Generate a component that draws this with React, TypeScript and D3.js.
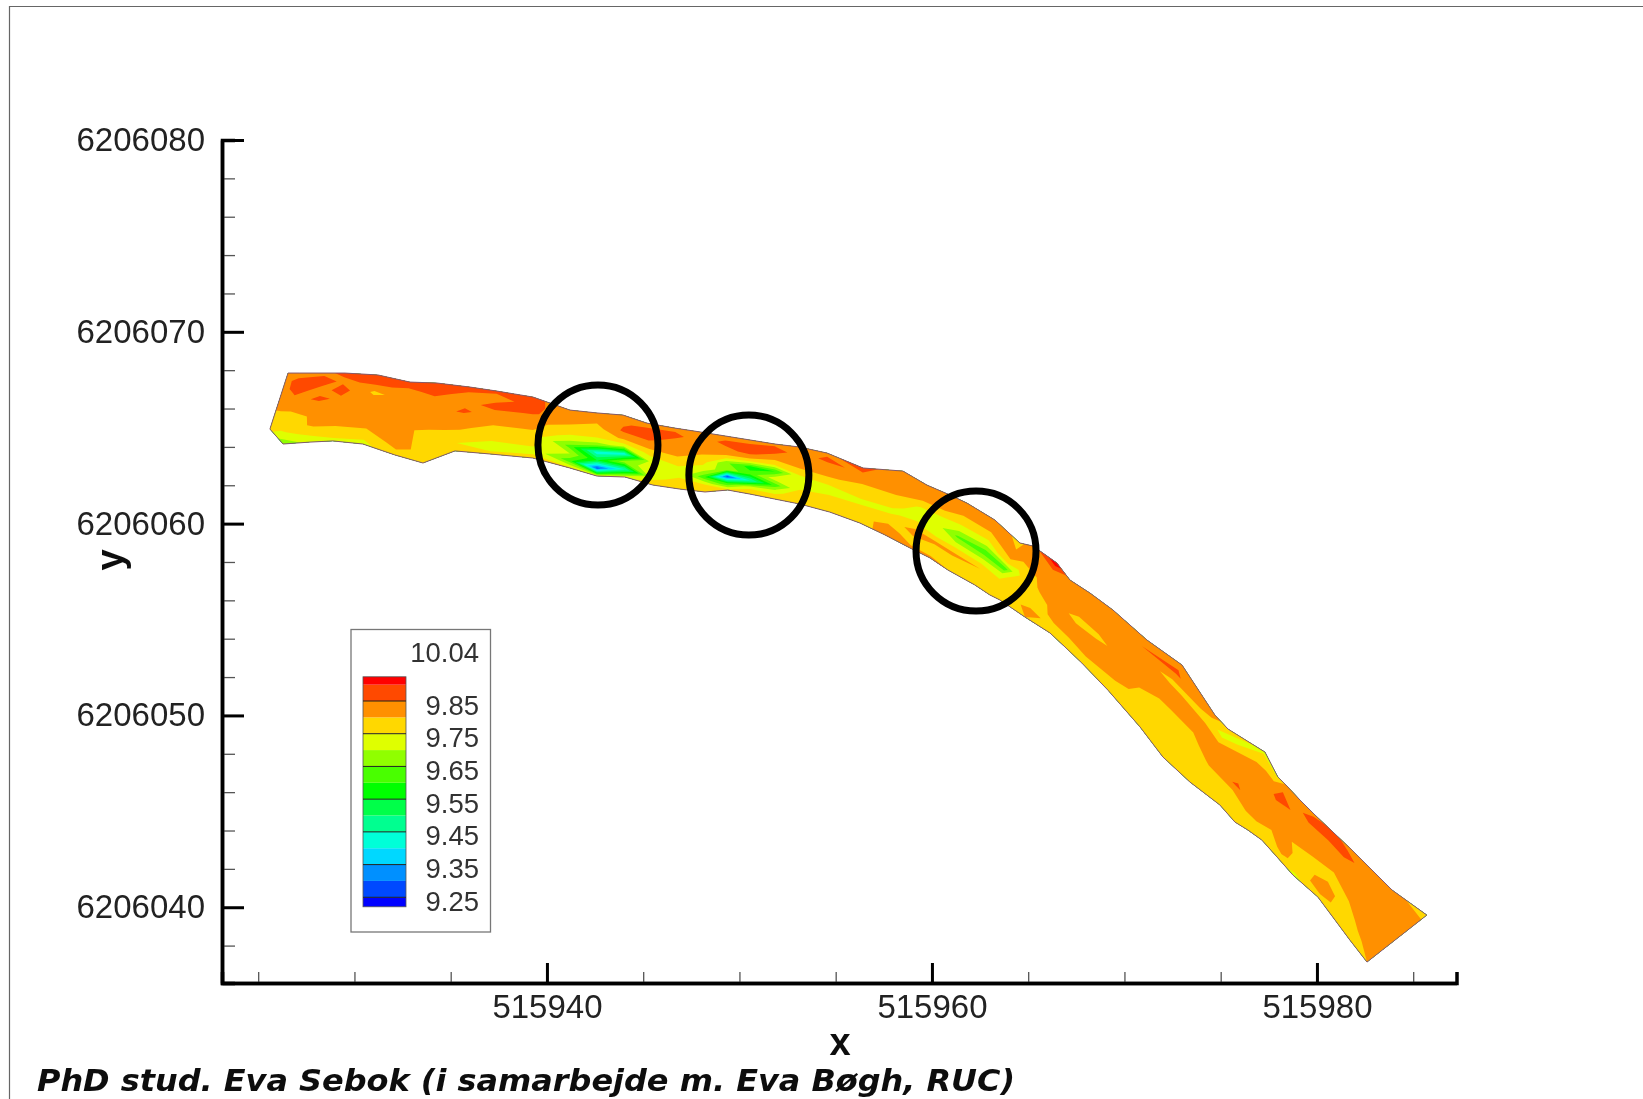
import React, { useEffect, useRef } from 'react';
import * as d3 from 'd3';

// banks of the river reach, one point per cross section
const upperX = [515926.55, 515927.17, 515928.47, 515929.51, 515931.22, 515932.88, 515934.29, 515936.0, 515937.4, 515939.27, 515941.19, 515942.6, 515943.95, 515945.19, 515946.65, 515947.95, 515949.25, 515950.55, 515951.84, 515953.14, 515954.55, 515956.42, 515958.49, 515959.74, 515960.94, 515961.82, 515963.27, 515964.57, 515965.25, 515966.49, 515967.17, 515968.21, 515969.4, 515971.17, 515972.99, 515974.7, 515975.38, 515977.3, 515977.97, 515978.49, 515979.12, 515979.9, 515980.94, 515981.71, 515982.86, 515983.9, 515985.71];
const upperY = [6206067.85, 6206067.85, 6206067.85, 6206067.85, 6206067.75, 6206067.38, 6206067.33, 6206067.12, 6206066.91, 6206066.6, 6206065.92, 6206065.77, 6206065.66, 6206065.24, 6206064.98, 6206064.78, 6206064.57, 6206064.36, 6206064.15, 6206063.99, 6206063.68, 6206062.9, 6206062.74, 6206062.01, 6206061.49, 6206061.07, 6206060.19, 6206058.99, 6206058.83, 6206057.95, 6206057.06, 6206056.38, 6206055.5, 6206053.93, 6206052.63, 6206050.02, 6206049.29, 6206048.09, 6206046.79, 6206046.27, 6206045.59, 6206044.81, 6206043.82, 6206043.09, 6206041.94, 6206040.9, 6206039.59];
const lowerX = [515925.61, 515926.29, 515927.69, 515928.88, 515930.44, 515932.1, 515933.56, 515935.22, 515937.04, 515939.27, 515941.19, 515942.6, 515944.05, 515945.51, 515946.91, 515948.21, 515949.4, 515950.55, 515951.84, 515953.14, 515954.7, 515956.26, 515957.56, 515958.86, 515959.9, 515960.83, 515962.23, 515963.01, 515963.53, 515964.83, 515966.13, 515966.91, 515967.79, 515969.14, 515970.81, 515972.0, 515973.4, 515974.96, 515975.74, 515976.42, 515977.14, 515977.97, 515978.75, 515980.05, 515980.94, 515981.71, 515982.6];
const lowerY = [6206064.93, 6206064.15, 6206064.25, 6206064.31, 6206064.15, 6206063.58, 6206063.16, 6206063.79, 6206063.63, 6206063.42, 6206062.9, 6206062.48, 6206062.43, 6206062.01, 6206061.8, 6206061.65, 6206061.75, 6206061.54, 6206061.28, 6206061.02, 6206060.6, 6206060.03, 6206059.41, 6206058.73, 6206058.21, 6206057.58, 6206056.8, 6206056.28, 6206056.02, 6206055.13, 6206054.3, 6206053.57, 6206052.73, 6206051.32, 6206049.4, 6206047.83, 6206046.53, 6206045.33, 6206044.44, 6206044.02, 6206043.5, 6206042.57, 6206041.68, 6206040.53, 6206039.33, 6206038.29, 6206037.14];

// water level per cross section, from the upper bank to the lower bank
const sectionLevels = [
  [9.83, 9.83, 9.83, 9.83, 9.83, 9.81, 9.78, 9.77, 9.77],
  [9.82, 9.87, 9.87, 9.83, 9.81, 9.78, 9.77, 9.74, 9.66],
  [9.84, 9.87, 9.83, 9.86, 9.82, 9.81, 9.81, 9.76, 9.72],
  [9.86, 9.84, 9.87, 9.84, 9.82, 9.8, 9.81, 9.77, 9.74],
  [9.87, 9.86, 9.79, 9.82, 9.83, 9.82, 9.81, 9.76, 9.74],
  [9.87, 9.84, 9.82, 9.82, 9.82, 9.81, 9.82, 9.82, 9.77],
  [9.87, 9.86, 9.83, 9.82, 9.82, 9.79, 9.78, 9.78, 9.77],
  [9.87, 9.84, 9.83, 9.86, 9.82, 9.81, 9.78, 9.75, 9.76],
  [9.86, 9.83, 9.87, 9.82, 9.81, 9.78, 9.76, 9.73, 9.76],
  [9.86, 9.87, 9.86, 9.82, 9.81, 9.78, 9.76, 9.74, 9.76],
  [9.83, 9.81, 9.8, 9.77, 9.72, 9.63, 9.7, 9.62, 9.76],
  [9.82, 9.81, 9.78, 9.76, 9.68, 9.42, 9.55, 9.28, 9.74],
  [9.82, 9.84, 9.86, 9.81, 9.72, 9.42, 9.68, 9.45, 9.74],
  [9.82, 9.87, 9.86, 9.82, 9.76, 9.72, 9.72, 9.74, 9.77],
  [9.84, 9.86, 9.83, 9.85, 9.78, 9.75, 9.74, 9.76, 9.78],
  [9.83, 9.83, 9.82, 9.8, 9.77, 9.72, 9.62, 9.75, 9.78],
  [9.83, 9.86, 9.84, 9.79, 9.66, 9.68, 9.28, 9.6, 9.77],
  [9.82, 9.87, 9.86, 9.78, 9.58, 9.62, 9.45, 9.74, 9.78],
  [9.84, 9.87, 9.82, 9.76, 9.6, 9.73, 9.62, 9.74, 9.78],
  [9.82, 9.83, 9.81, 9.8, 9.75, 9.71, 9.75, 9.77, 9.78],
  [9.84, 9.86, 9.82, 9.81, 9.76, 9.73, 9.76, 9.8, 9.77],
  [9.87, 9.84, 9.81, 9.78, 9.76, 9.74, 9.77, 9.78, 9.78],
  [9.82, 9.82, 9.82, 9.8, 9.77, 9.74, 9.77, 9.82, 9.82],
  [9.82, 9.82, 9.8, 9.74, 9.72, 9.77, 9.82, 9.78, 9.81],
  [9.82, 9.82, 9.8, 9.74, 9.71, 9.72, 9.81, 9.77, 9.81],
  [9.82, 9.82, 9.78, 9.73, 9.64, 9.73, 9.81, 9.77, 9.8],
  [9.82, 9.82, 9.78, 9.72, 9.62, 9.72, 9.8, 9.77, 9.77],
  [9.79, 9.8, 9.82, 9.78, 9.62, 9.74, 9.76, 9.8, 9.78],
  [9.82, 9.82, 9.82, 9.76, 9.74, 9.76, 9.78, 9.78, 9.78],
  [9.94, 9.85, 9.84, 9.82, 9.81, 9.78, 9.78, 9.81, 9.8],
  [9.82, 9.82, 9.82, 9.82, 9.82, 9.82, 9.81, 9.79, 9.78],
  [9.82, 9.82, 9.82, 9.82, 9.78, 9.82, 9.82, 9.79, 9.78],
  [9.83, 9.83, 9.82, 9.82, 9.79, 9.82, 9.82, 9.8, 9.78],
  [9.84, 9.85, 9.82, 9.82, 9.82, 9.82, 9.81, 9.79, 9.78],
  [9.83, 9.86, 9.79, 9.82, 9.81, 9.78, 9.78, 9.78, 9.78],
  [9.82, 9.78, 9.82, 9.81, 9.78, 9.78, 9.78, 9.78, 9.78],
  [9.78, 9.73, 9.8, 9.82, 9.82, 9.79, 9.78, 9.78, 9.78],
  [9.74, 9.78, 9.82, 9.82, 9.82, 9.86, 9.78, 9.78, 9.78],
  [9.74, 9.82, 9.82, 9.82, 9.82, 9.82, 9.8, 9.78, 9.78],
  [9.82, 9.85, 9.87, 9.82, 9.82, 9.82, 9.81, 9.78, 9.78],
  [9.82, 9.83, 9.85, 9.82, 9.82, 9.82, 9.8, 9.78, 9.78],
  [9.84, 9.87, 9.82, 9.82, 9.82, 9.8, 9.81, 9.81, 9.77],
  [9.86, 9.86, 9.82, 9.82, 9.81, 9.78, 9.78, 9.78, 9.73],
  [9.83, 9.87, 9.83, 9.82, 9.8, 9.78, 9.82, 9.82, 9.78],
  [9.82, 9.82, 9.82, 9.85, 9.82, 9.8, 9.78, 9.78, 9.78],
  [9.82, 9.82, 9.82, 9.82, 9.82, 9.82, 9.81, 9.79, 9.78],
  [9.77, 9.81, 9.82, 9.85, 9.82, 9.82, 9.82, 9.82, 9.8],
];

const levels = [9.25, 9.3, 9.35, 9.4, 9.45, 9.5, 9.55, 9.6, 9.65, 9.7, 9.75, 9.8, 9.85, 9.9];
const levelColors = ['#0000ff', '#0048ff', '#0090ff', '#00d8ff', '#00ffd8', '#00ff90', '#00ff48', '#00ff00', '#48ff00', '#90ff00', '#dfff00', '#ffd800', '#ff9000', '#ff4800', '#ff0000'];
const legendLabels = [9.85, 9.75, 9.65, 9.55, 9.45, 9.35, 9.25];
const legendMax = '10.04';

const xMajor = [515940, 515960, 515980];
const xMinor = [515925, 515930, 515935, 515945, 515950, 515955, 515965, 515970, 515975, 515985];
const yMajor = [6206040, 6206050, 6206060, 6206070, 6206080];
const yMinor = [6206038, 6206042, 6206044, 6206046, 6206048, 6206052, 6206054, 6206056, 6206058, 6206062, 6206064, 6206066, 6206068, 6206072, 6206074, 6206076, 6206078];

// circled low spots
const circleX = [515942.65, 515950.49, 515962.29];
const circleY = [6206064.1, 6206062.53, 6206058.57];

const footer = 'PhD stud. Eva Sebok (i samarbejde m. Eva Bøgh, RUC)';

const xScale = d3.scaleLinear().domain([515923.12, 515987.25]).range([222, 1456.5]);
const yScale = d3.scaleLinear().domain([6206036.05, 6206080]).range([983, 140]);
const legendScale = d3.scaleLinear().domain([9.25, 9.85]).range([897.3, 701]);
const legendEnds = [9.221, 9.924];

const nSections = sectionLevels.length;
const nRows = sectionLevels[0].length;
const lerp = (a: number, b: number, t: number) => a + (b - a) * t;

// grid position from d3.contours -> position on the river
function toRiver([gx, gy]: number[]): [number, number] {
  const s = Math.max(0, Math.min(nSections - 1, gx - 0.5));
  const t = Math.max(0, Math.min(1, (gy - 0.5) / (nRows - 1)));
  const i = Math.min(nSections - 2, Math.floor(s));
  const f = s - i;
  const ux = lerp(upperX[i], upperX[i + 1], f);
  const uy = lerp(upperY[i], upperY[i + 1], f);
  const lx = lerp(lowerX[i], lowerX[i + 1], f);
  const ly = lerp(lowerY[i], lowerY[i + 1], f);
  return [xScale(lerp(ux, lx, t)), yScale(lerp(uy, ly, t))];
}

function App() {
  const axesRef = useRef<SVGGElement>(null);

  useEffect(() => {
    const g = d3.select(axesRef.current);
    g.selectAll('*').remove();

    const style = (sel: any, width: number, color: string) => {
      sel.selectAll('line').attr('stroke', color).attr('stroke-width', width);
      sel.selectAll('path').attr('stroke', '#000').attr('stroke-width', 3.5);
      sel.selectAll('text')
        .attr('font-family', '"Liberation Sans", Arial, sans-serif')
        .attr('font-size', 33)
        .attr('fill', '#222');
    };

    const yAt = g.append('g').attr('transform', `translate(${xScale.range()[0]},0)`);
    yAt.append('g').call(d3.axisLeft(yScale).tickValues(yMinor).tickSize(-13).tickFormat(() => ''))
      .call(style, 1.3, '#555');
    yAt.append('g').call(d3.axisLeft(yScale).tickValues(yMajor).tickSize(-22).tickSizeOuter(0).tickPadding(17).tickFormat(d3.format('d')))
      .call(style, 3, '#000');

    const xAt = g.append('g').attr('transform', `translate(0,${yScale.range()[0]})`);
    xAt.append('g').call(d3.axisBottom(xScale).tickValues(xMinor).tickSize(-11).tickFormat(() => ''))
      .call(style, 1.3, '#555');
    xAt.append('g').call(d3.axisBottom(xScale).tickValues(xMajor).tickSize(-20).tickSizeOuter(0).tickPadding(12).tickFormat(d3.format('d')))
      .call(style, 3, '#000');
  }, []);

  const flat = d3.range(nRows).flatMap(r => sectionLevels.map(col => col[r]));
  const bands = d3.contours().size([nSections, nRows]).thresholds(levels)(flat);
  const ring = d3.line();
  const bandPath = (band: any) =>
    band.coordinates.flatMap((poly: number[][][]) => poly.map(r => ring(r.map(toRiver)) + 'Z')).join('');

  const outline = ring([
    ...upperX.map((x, i) => [xScale(x), yScale(upperY[i])] as [number, number]),
    ...lowerX.map((x, i) => [xScale(x), yScale(lowerY[i])] as [number, number]).reverse(),
  ]) + 'Z';

  const legendEdges = [legendEnds[0], ...levels, legendEnds[1]];

  return (
    <svg width={1643} height={1099} style={{ position: 'absolute', left: 0, top: 0, background: '#fff' }}>
      <defs>
        <filter id="soft" x="-5%" y="-5%" width="110%" height="110%">
          <feGaussianBlur stdDeviation="0.7" />
        </filter>
      </defs>
      <path d="M9.5,1099V6.5H1643" fill="none" stroke="#666" strokeWidth={1.2} />
      <g filter="url(#soft)">
        <g>
          {bands.map((band, i) => (
            <path key={i} d={bandPath(band)} fill={levelColors[i + 1]} fillRule="evenodd" />
          ))}
          <path d={outline} fill="none" stroke="#85586e" strokeWidth={1} />
        </g>

        <g ref={axesRef} />

        <text x={840} y={1055} textAnchor="middle" fontFamily='"Liberation Sans", Arial, sans-serif' fontWeight="bold" fontSize={38} fill="#111">x</text>
        <text transform="translate(123,560) rotate(-90)" textAnchor="middle" fontFamily='"Liberation Sans", Arial, sans-serif' fontWeight="bold" fontSize={38} fill="#111">y</text>

        {circleX.map((cx, i) => (
          <circle key={i} cx={xScale(cx)} cy={yScale(circleY[i])} r={60} fill="none" stroke="#000" strokeWidth={7} />
        ))}

        <rect x={351} y={629.5} width={139.5} height={302.5} fill="#fff" stroke="#777" strokeWidth={1.3} />
        {levelColors.map((c, i) => (
          <rect key={c} x={363} width={43} y={legendScale(legendEdges[i + 1])} height={legendScale(legendEdges[i]) - legendScale(legendEdges[i + 1])} fill={c} />
        ))}
        <rect x={363} width={43} y={legendScale(legendEnds[1])} height={legendScale(legendEnds[0]) - legendScale(legendEnds[1])} fill="none" stroke="#555" strokeWidth={0.8} />
        {legendLabels.map(v => (
          <g key={v}>
            <line x1={363} x2={406} y1={legendScale(v)} y2={legendScale(v)} stroke="#222" strokeWidth={1} />
            <text x={479} y={legendScale(v) + 13.5} textAnchor="end" fontFamily='"Liberation Sans", Arial, sans-serif' fontSize={27.5} fill="#333">{v.toFixed(2)}</text>
          </g>
        ))}
        <text x={479} y={662} textAnchor="end" fontFamily='"Liberation Sans", Arial, sans-serif' fontSize={27.5} fill="#333">{legendMax}</text>

        <text x={37} y={1091} textLength={978} lengthAdjust="spacingAndGlyphs" fontFamily='"DejaVu Sans", Verdana, sans-serif' fontWeight="bold" fontStyle="italic" fontSize={30} fill="#111">{footer}</text>
      </g>
    </svg>
  );
}

export default App;
